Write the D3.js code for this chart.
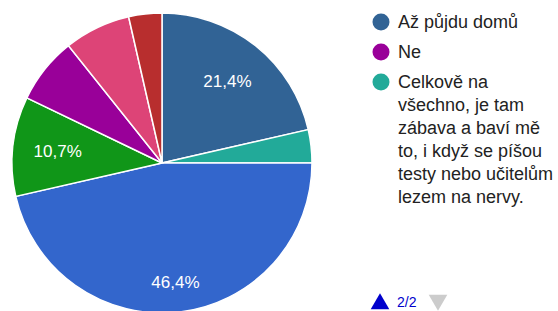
<!DOCTYPE html>
<html>
<head>
<meta charset="utf-8">
<script src="https://cdn.jsdelivr.net/npm/d3@7"></script>
<style>
  html, body { margin: 0; padding: 0; background: #fff; overflow: hidden; }
  text { font-family: Arial, "Liberation Sans", sans-serif; }
</style>
</head>
<body>
<script>
// slices in drawing order, clockwise from 12 o'clock
const categories = ["Až půjdu domů", "Celkově na všechno, je tam zábava a baví mě to, i když se píšou testy nebo učitelům lezem na nervy.", "Ano", "Spíše ano", "Ne", "Spíše ne", "Nevím"];
const counts = [6, 1, 13, 3, 2, 2, 1];
const colors = ["#316395", "#22aa99", "#3366cc", "#109618", "#990099", "#dd4477", "#b82e2e"];

// legend page 2/2
const legendItems = ["Až půjdu domů", "Ne", "Celkově na všechno, je tam zábava a baví mě to, i když se píšou testy nebo učitelům lezem na nervy."];
const legendLines = [["Až půjdu domů"], ["Ne"], ["Celkově na", "všechno, je tam", "zábava a baví mě", "to, i když se píšou", "testy nebo učitelům", "lezem na nervy."]];
const pageLabel = "2/2";

const width = 558;
const height = 311;
const cx = 162, cy = 163, radius = 150;

const svg = d3.select("body").append("svg")
  .attr("width", width)
  .attr("height", height)
  .attr("viewBox", [0, 0, width, height]);

const total = d3.sum(counts);
const color = d3.scaleOrdinal().domain(categories).range(colors);

const pie = d3.pie().sort(null).value((d, i) => counts[i]);
const arcs = pie(categories);

const arc = d3.arc().innerRadius(0).outerRadius(radius);

const g = svg.append("g").attr("transform", `translate(${cx},${cy})`);

g.selectAll("path")
  .data(arcs)
  .join("path")
  .attr("d", arc)
  .attr("fill", d => color(d.data))
  .attr("stroke", "#fff")
  .attr("stroke-width", 1.5);

const fmt = v => d3.format(".1f")(v).replace(".", ",") + "%";

// only slices of 10 % and more get a label; big slices push it further out
g.selectAll("text.pct")
  .data(arcs.filter(d => d.value / total >= 0.1))
  .join("text")
  .attr("class", "pct")
  .attr("transform", d => {
    const r = radius * (d.value / total > 0.3 ? 0.8 : 0.7);
    const a = (d.startAngle + d.endAngle) / 2;
    return `translate(${Math.sin(a) * r},${-Math.cos(a) * r})`;
  })
  .attr("text-anchor", "middle")
  .attr("dy", "0.35em")
  .attr("fill", "#fff")
  .attr("font-size", 17)
  .text(d => fmt(d.value / total * 100));

// legend
const legend = svg.append("g").attr("transform", "translate(381,0)");
let y = 28;
legendItems.forEach((name, i) => {
  legend.append("circle")
    .attr("cx", 0)
    .attr("cy", y - 6)
    .attr("r", 8.5)
    .attr("fill", color(name));
  const t = legend.append("text")
    .attr("x", 17)
    .attr("y", y)
    .attr("font-size", 18)
    .attr("fill", "#222");
  legendLines[i].forEach((line, j) => {
    t.append("tspan").attr("x", 17).attr("y", y + j * 23).text(line);
  });
  y += 30 + (legendLines[i].length - 1) * 23;
});

// paging
const pager = svg.append("g").attr("transform", "translate(380,307)");
pager.append("path")
  .attr("d", d3.symbol(d3.symbolTriangle, 150)())
  .attr("transform", "translate(0,-3)")
  .attr("fill", "#0000cc");
pager.append("text")
  .attr("x", 17)
  .attr("y", 0)
  .attr("font-size", 14)
  .attr("fill", "#0000cc")
  .text(pageLabel);
pager.append("path")
  .attr("d", d3.symbol(d3.symbolTriangle, 150)())
  .attr("transform", "translate(58,-7) rotate(180)")
  .attr("fill", "#cccccc");
</script>
</body>
</html>
